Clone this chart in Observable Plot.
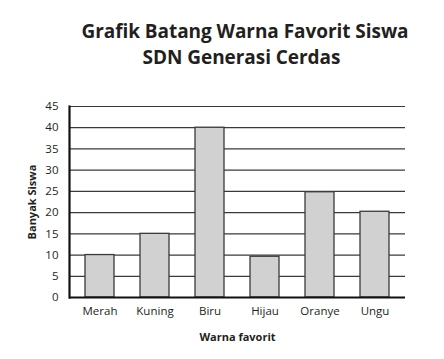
<!DOCTYPE html>
<html>
<head>
<meta charset="utf-8">
<script src="https://cdn.jsdelivr.net/npm/d3@7"></script>
<script src="https://cdn.jsdelivr.net/npm/@observablehq/plot@0.6"></script>
<style>
  body { margin: 0; background: #fff; width: 444px; height: 359px; overflow: hidden; }
  #title { font-family: "Open Sans", sans-serif; font-weight: 700; font-size: 19px; box-sizing: border-box;
           text-align: center; color: #231f20; padding-top: 18px; height: 85px; letter-spacing: -0.05px; }
  #title div { height: 26px; line-height: 26px; white-space: nowrap; }
  #t1 { padding-left: 46px; }
  #t2 { padding-left: 39px; }
  #chart svg { display: block; }
</style>
</head>
<body>
<div id="title"><div id="t1">Grafik Batang Warna Favorit Siswa</div><div id="t2">SDN Generasi Cerdas</div></div>
<div id="chart"></div>
<script>
const categories = ["Merah", "Kuning", "Biru", "Hijau", "Oranye", "Ungu"];
const values = [10, 15, 40, 9.6, 24.8, 20.2];
const yTicks = [0, 5, 10, 15, 20, 25, 30, 35, 40, 45];
const xLabel = "Warna favorit";
const yLabel = "Banyak Siswa";

const data = categories.map((c, i) => ({warna: c, siswa: values[i]}));

const chart = Plot.plot({
  width: 444,
  height: 274,
  marginTop: 21,
  marginBottom: 62,
  marginLeft: 69,
  marginRight: 39,
  style: {fontFamily: "'Open Sans', sans-serif", fontSize: "11.5px", color: "#231f20", background: "white"},
  x: {domain: categories, paddingInner: 0.47, paddingOuter: 0.26, label: null},
  y: {domain: [0, 45], ticks: yTicks, label: null},
  marks: [
    Plot.gridY(yTicks, {stroke: "#3a3a3a", strokeOpacity: 1, strokeWidth: 1.2}),
    Plot.barY(data, {x: "warna", y: "siswa", fill: "#d1d1d1", stroke: "#3a3a3a", strokeWidth: 1.3}),
    Plot.axisY(yTicks, {tickSize: 0, tickPadding: 11, fontSize: 11.5, label: null}),
    Plot.axisX({tickSize: 0, tickPadding: 9, fontSize: 11.5, label: null}),
    Plot.ruleY([0], {stroke: "#111", strokeWidth: 2.2}),
    Plot.frame({anchor: "left", stroke: "#111", strokeWidth: 2.2}),
    Plot.text([xLabel], {frameAnchor: "bottom", dy: 43, fontWeight: "bold", fontSize: 11}),
    Plot.text([yLabel], {frameAnchor: "left", dx: -37, rotate: -90, textAnchor: "middle", fontWeight: "bold", fontSize: 11})
  ]
});
document.getElementById("chart").appendChild(chart);
</script>
</body>
</html>
